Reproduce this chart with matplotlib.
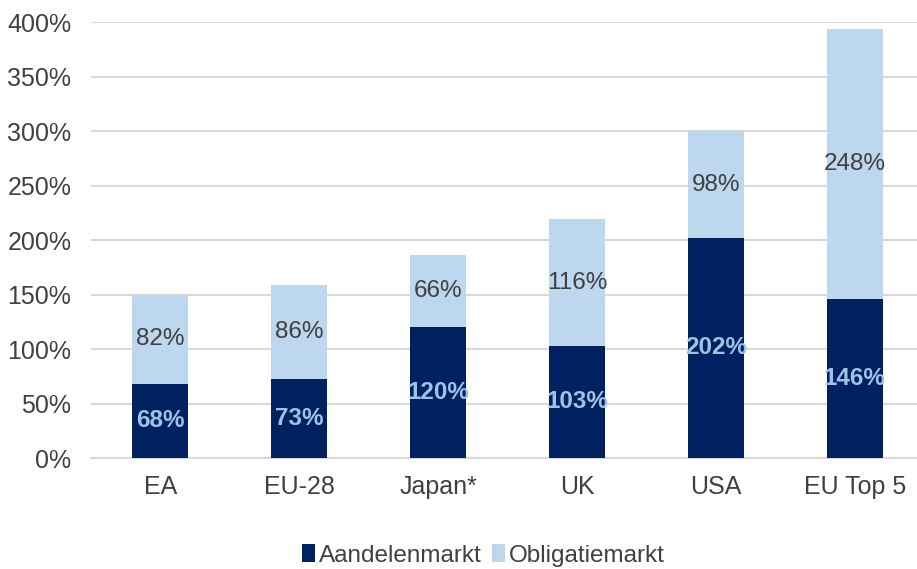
import matplotlib
matplotlib.use("Agg")
import matplotlib.pyplot as plt
from matplotlib.ticker import FuncFormatter

categories = ["EA", "EU-28", "Japan*", "UK", "USA", "EU Top 5"]
aandelen = [68, 73, 120, 103, 202, 146]
obligaties = [82, 86, 66, 116, 98, 248]
series_names = ["Aandelenmarkt", "Obligatiemarkt"]
yticks = [0, 50, 100, 150, 200, 250, 300, 350, 400]

plt.rcParams['font.family'] = ['Liberation Sans', 'DejaVu Sans']

dark = "#002060"
light = "#BDD7EE"
label_light = "#9DC3E6"
text_gray = "#404040"

fig = plt.figure(figsize=(9.17, 5.69), dpi=100)
ax = fig.add_axes([0.099, 0.195, 0.909, 0.766])

x = list(range(len(categories)))
w = 0.4
b1 = ax.bar(x, aandelen, width=w, color=dark, label=series_names[0], zorder=3)
b2 = ax.bar(x, obligaties, width=w, bottom=aandelen, color=light, label=series_names[1], zorder=3)

for i in x:
    ax.text(i, aandelen[i] / 2, f"{aandelen[i]}%", ha="center", va="center",
            color=label_light, fontsize=17.5, fontweight="bold", zorder=4)
    ax.text(i, aandelen[i] + obligaties[i] / 2, f"{obligaties[i]}%", ha="center", va="center",
            color=text_gray, fontsize=17.5, zorder=4)

ax.set_xlim(-0.5, len(categories) - 0.5)
ax.set_ylim(0, 400)
ax.set_yticks(yticks)
ax.yaxis.set_major_formatter(FuncFormatter(lambda v, p: f"{int(v)}%"))
ax.set_xticks(x)
ax.set_xticklabels(categories)
ax.tick_params(axis="both", length=0, labelsize=18, colors=text_gray)
ax.tick_params(axis="x", pad=12)
ax.tick_params(axis="y", pad=14)
ax.grid(axis="y", color="#D9D9D9", linewidth=1.5, zorder=0)
for s in ["top", "right", "left"]:
    ax.spines[s].set_visible(False)
ax.spines["bottom"].set_color("#D9D9D9")
ax.spines["bottom"].set_linewidth(1.5)

leg = fig.legend(handles=[b1, b2], labels=series_names, loc="center", bbox_to_anchor=(0.527, 0.024),
                 ncol=2, frameon=False, fontsize=17.5, handlelength=0.55, handleheight=0.75,
                 handletextpad=0.15, columnspacing=0.4)
for t in leg.get_texts():
    t.set_color(text_gray)

fig.savefig("out.png", dpi=100)
